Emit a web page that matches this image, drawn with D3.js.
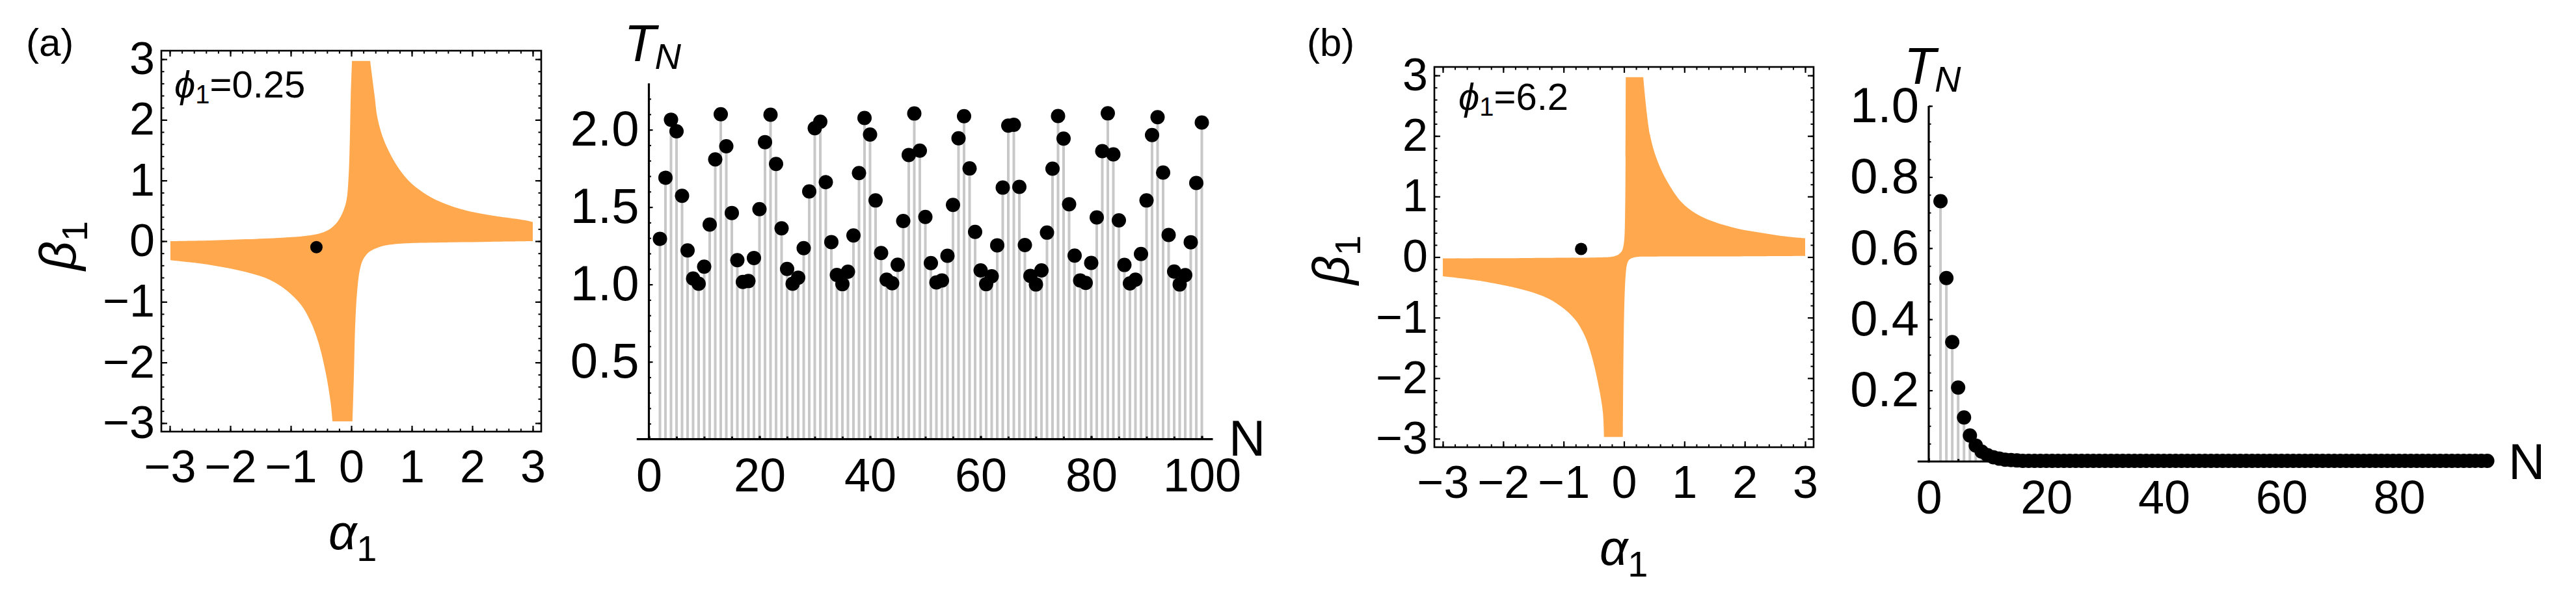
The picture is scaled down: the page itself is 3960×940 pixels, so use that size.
<!DOCTYPE html>
<html><head><meta charset="utf-8">
<script src="https://cdn.jsdelivr.net/npm/d3@7"></script>
<style>
body{margin:0;background:#fff}
svg{display:block}
text{font-family:"Liberation Sans","DejaVu Sans",Arial,sans-serif;fill:#000}
</style>
</head><body>
<svg id="c" width="3960" height="940"></svg>
<script>
// ---------------- DATA ----------------
// Panel (a): region boundary pieces [alpha, beta]
const UL_A = [[-2.99,0.0],[-2.34,0.011],[-1.74,0.031],[-1.14,0.057],[-0.74,0.088],[-0.50,0.134],[-0.34,0.21],[-0.22,0.33],[-0.13,0.50],[-0.076,0.69],[-0.044,1.07],[-0.024,1.65],[-0.008,2.41],[0.012,2.97]];
const OUT_A_Q1 = [[0.312,2.97],[0.384,2.41],[0.433,2.03],[0.545,1.65],[0.745,1.26],[0.945,1.0],[1.185,0.805],[1.466,0.651],[1.786,0.536],[2.107,0.46],[2.467,0.402],[2.867,0.345],[3.0,0.314]];
const LR_A = [[3.0,0.0],[2.3,-0.01],[1.67,-0.019],[0.865,-0.038],[0.60,-0.065],[0.465,-0.096],[0.304,-0.172],[0.204,-0.287],[0.144,-0.46],[0.096,-0.84],[0.064,-1.41],[0.044,-2.18],[0.02,-2.97]];
const OUT_A_Q3 = [[-0.31,-2.97],[-0.34,-2.67],[-0.42,-2.18],[-0.54,-1.68],[-0.67,-1.33],[-0.83,-1.05],[-1.06,-0.82],[-1.34,-0.64],[-1.74,-0.51],[-2.34,-0.39],[-2.99,-0.314]];
const DOT_A = [-0.576,-0.10];
const PHI_A = "0.25";

// Panel (b): region boundary pieces
const UL_B = [[-3.0,-0.023],[-1.535,-0.015],[-0.33,-0.004],[-0.17,0.011],[-0.09,0.042],[-0.03,0.11],[0.002,0.26],[0.018,0.68],[0.026,1.64],[0.03,2.97]];
const OUT_B_Q1 = [[0.319,2.97],[0.43,2.02],[0.55,1.60],[0.71,1.26],[0.95,0.91],[1.19,0.72],[1.47,0.59],[1.88,0.47],[2.28,0.40],[2.68,0.34],[3.0,0.31]];
const LR_B = [[3.0,0.019],[1.68,0.011],[0.47,0.008],[0.19,0.0],[0.09,-0.04],[0.05,-0.12],[0.03,-0.27],[0.01,-0.65],[-0.006,-1.42],[-0.018,-2.82],[-0.02,-2.97]];
const OUT_B_Q3 = [[-0.33,-2.97],[-0.35,-2.56],[-0.41,-2.18],[-0.53,-1.65],[-0.65,-1.30],[-0.81,-1.03],[-1.05,-0.81],[-1.33,-0.65],[-1.74,-0.52],[-2.34,-0.40],[-3.0,-0.317]];
const DOT_B = [-0.71,0.135];
const PHI_B = "6.2";

// Region plot ticks
const REGION_TICKS = [-3,-2,-1,0,1,2,3];

// T_N series, N starts at 2
const N_START = 2;
const TN_A = [1.295,1.69,2.065,1.99,1.573,1.22,1.038,1.005,1.115,1.387,
1.808,2.10,1.893,1.462,1.157,1.016,1.022,1.171,1.487,1.92,
2.097,1.779,1.363,1.10,1.005,1.044,1.235,1.601,2.01,2.052,
1.661,1.274,1.061,1.002,1.082,1.317,1.72,2.076,1.969,1.543,
1.203,1.031,1.008,1.127,1.41,1.837,2.105,1.865,1.436,1.138,
1.013,1.026,1.185,1.514,1.945,2.088,1.75,1.34,1.091,1.002,
1.053,1.253,1.626,2.027,2.032,1.631,1.255,1.055,1.0,1.091,
1.335,1.748,2.089,1.943,1.518,1.186,1.026,1.01,1.139,1.433,
1.862,2.106,1.841,1.414,1.126,1.007,1.031,1.197,1.543,1.966,
2.081,1.723,1.32,1.083,1.0,1.06,1.273,1.656,2.047];
const TN_B = [0.732,0.516,0.336,0.208,0.124,0.073,0.045,0.028,0.018,0.012,
0.008,0.005,0.004,0.003,0.002,0.002,0.002,0.002,0.002,0.002,
0.002,0.002,0.002,0.002,0.002,0.002,0.002,0.002,0.002,0.002,
0.002,0.002,0.002,0.002,0.002,0.002,0.002,0.002,0.002,0.002,
0.002,0.002,0.002,0.002,0.002,0.002,0.002,0.002,0.002,0.002,
0.002,0.002,0.002,0.002,0.002,0.002,0.002,0.002,0.002,0.002,
0.002,0.002,0.002,0.002,0.002,0.002,0.002,0.002,0.002,0.002,
0.002,0.002,0.002,0.002,0.002,0.002,0.002,0.002,0.002,0.002,
0.002,0.002,0.002,0.002,0.002,0.002,0.002,0.002,0.002,0.002,
0.002,0.002,0.002,0.002];
const XT_A = [0,20,40,60,80,100];
const YT_A = [0.5,1.0,1.5,2.0];
const XT_B = [0,20,40,60,80];
const YT_B = [0.2,0.4,0.6,0.8,1.0];

// ---------------- DRAW ----------------
const svg = d3.select("#c");
const ORANGE = "#FFA84D";
const intFmt = d3.format("d");

function regionPanel(cfg){
  const x = d3.scaleLinear().domain([-3.14,3.14]).range([cfg.x0,cfg.x1]);
  const y = d3.scaleLinear().domain([-3.14,3.14]).range([cfg.y1,cfg.y0]);
  const g = svg.append("g");
  const line = d3.line().x(d=>x(d[0])).y(d=>y(d[1])).curve(d3.curveCatmullRom.alpha(0.5));
  let s = "";
  cfg.pieces.forEach((p,i)=>{ let d = line(p); if(i>0) d = "L" + d.slice(1); s += d; });
  g.append("path").attr("d", s+"Z").attr("fill",ORANGE).attr("stroke","none");
  g.append("circle").attr("cx",x(cfg.dot[0])).attr("cy",y(cfg.dot[1])).attr("r",9.5).attr("fill","#000");
  // frame axes
  const minor = d3.range(-3,3.01,0.2).map(v=>+v.toFixed(1));
  const mk = (axis, sc, tr, sizeMaj, sizeMin, labels) => {
    const a1 = axis(sc).tickValues(minor).tickSizeInner(-sizeMin).tickSizeOuter(0).tickFormat("");
    const ga = g.append("g").attr("transform",tr).call(a1);
    ga.select(".domain").remove();
    ga.selectAll("line").attr("stroke","#000").attr("stroke-width",2);
    const a2 = axis(sc).tickValues(REGION_TICKS).tickSizeInner(-sizeMaj).tickSizeOuter(0).tickPadding(labels?12:0)
      .tickFormat(labels ? intFmt : "");
    const gb = g.append("g").attr("transform",tr).call(a2);
    gb.select(".domain").remove();
    gb.selectAll("line").attr("stroke","#000").attr("stroke-width",2.2);
    gb.selectAll("text").attr("font-size",70).attr("font-family","Liberation Sans, Arial, sans-serif").attr("fill","#000");
    return gb;
  };
  const bx = mk(d3.axisBottom, x, `translate(0,${cfg.y1})`, 9, 4.5, true);
  bx.selectAll("text").attr("dy",null).attr("y", 78);
  mk(d3.axisTop, x, `translate(0,${cfg.y0})`, 9, 4.5, false);
  const ly = mk(d3.axisLeft, y, `translate(${cfg.x0},0)`, 9, 4.5, true);
  ly.selectAll("text").attr("x",-10);
  mk(d3.axisRight, y, `translate(${cfg.x1},0)`, 9, 4.5, false);
  g.append("rect").attr("x",cfg.x0).attr("y",cfg.y0).attr("width",cfg.x1-cfg.x0).attr("height",cfg.y1-cfg.y0)
    .attr("fill","none").attr("stroke","#000").attr("stroke-width",2.6);
  // labels
  g.append("text").attr("x",cfg.tag[0]).attr("y",cfg.tag[1]).attr("font-size",60).attr("font-family","DejaVu Sans, sans-serif").text(cfg.tagText);
  const ph = g.append("text").attr("x",cfg.phi[0]).attr("y",cfg.phi[1]).attr("font-size",58);
  ph.append("tspan").attr("font-style","italic").text("ϕ");
  ph.append("tspan").attr("font-size",40).attr("dy",9).text("1");
  ph.append("tspan").attr("dy",-9).text("="+cfg.phiVal);
  const al = g.append("text").attr("x",cfg.alpha[0]).attr("y",cfg.alpha[1]).attr("font-size",76);
  al.append("tspan").attr("font-style","italic").text("α");
  al.append("tspan").attr("font-size",56).attr("dy",18).text("1");
  const bl = g.append("text").attr("transform",`translate(${cfg.beta[0]},${cfg.beta[1]}) rotate(-90)`)
    .attr("text-anchor","middle").attr("font-size",78);
  bl.append("tspan").attr("font-style","italic").text("β");
  bl.append("tspan").attr("font-size",56).attr("dy",18).text("1");
}

regionPanel({x0:248,x1:832,y0:78,y1:664,
  pieces:[UL_A,[[0.012,2.97],[0.312,2.97]],OUT_A_Q1,[[3.0,0.314],[3.0,0.0]],LR_A,[[0.02,-2.97],[-0.31,-2.97]],OUT_A_Q3,[[-2.99,-0.314],[-2.99,0.0]]],
  dot:DOT_A, tag:[40,86], tagText:"(a)", phi:[268,150], phiVal:PHI_A, alpha:[505,845], beta:[116,378]});
regionPanel({x0:2205,x1:2788,y0:103,y1:688,
  pieces:[UL_B,[[0.03,2.97],[0.319,2.97]],OUT_B_Q1,[[3.0,0.31],[3.0,0.019]],LR_B,[[-0.02,-2.97],[-0.33,-2.97]],OUT_B_Q3,[[-3.0,-0.317],[-3.0,-0.023]]],
  dot:DOT_B, tag:[2009,86], tagText:"(b)", phi:[2242,169], phiVal:PHI_B, alpha:[2459,869], beta:[2073,400]});

function stemPanel(cfg){
  const x = d3.scaleLinear().domain(cfg.xd).range(cfg.xr);
  const y = d3.scaleLinear().domain(cfg.yd).range(cfg.yr);
  const g = svg.append("g");
  const pts = cfg.vals.map((v,i)=>({n:i+N_START, v}));
  g.selectAll("line.stem").data(pts).join("line").attr("class","stem")
    .attr("x1",d=>x(d.n)).attr("x2",d=>x(d.n)).attr("y1",y(0)).attr("y2",d=>y(d.v))
    .attr("stroke","#c8c8c8").attr("stroke-width",4);
  // y axis minor + major
  const ym = d3.axisLeft(y).tickValues(cfg.yMinor).tickSizeInner(-3.5).tickSizeOuter(0).tickFormat("");
  const gym = g.append("g").attr("transform",`translate(${x(0)},0)`).call(ym);
  gym.select(".domain").remove(); gym.selectAll("line").attr("stroke","#000").attr("stroke-width",2);
  const yM = d3.axisLeft(y).tickValues(cfg.yt).tickSizeInner(-6).tickSizeOuter(0).tickPadding(15).tickFormat(d3.format(".1f"));
  const gyM = g.append("g").attr("transform",`translate(${x(0)},0)`).call(yM);
  gyM.select(".domain").remove(); gyM.selectAll("line").attr("stroke","#000").attr("stroke-width",2.2);
  gyM.selectAll("text").attr("font-size",76).attr("font-family","Liberation Sans, Arial, sans-serif").attr("fill","#000");
  // x axis
  const xm = d3.axisBottom(x).tickValues(cfg.xMinor).tickSizeInner(-4).tickSizeOuter(0).tickFormat("");
  const gxm = g.append("g").attr("transform",`translate(0,${y(0)})`).call(xm);
  gxm.select(".domain").remove(); gxm.selectAll("line").attr("stroke","#000").attr("stroke-width",3);
  const xM = d3.axisBottom(x).tickValues(cfg.xt).tickSizeInner(-5).tickSizeOuter(0).tickFormat(intFmt);
  const gxM = g.append("g").attr("transform",`translate(0,${y(0)})`).call(xM);
  gxM.select(".domain").remove(); gxM.selectAll("line").attr("stroke","#000").attr("stroke-width",3);
  gxM.selectAll("text").attr("dy",null).attr("y",80).attr("font-size",72).attr("font-family","Liberation Sans, Arial, sans-serif").attr("fill","#000");
  // axis lines
  g.append("line").attr("x1",x(cfg.xAxisExt[0])).attr("x2",x(cfg.xAxisExt[1])).attr("y1",y(0)).attr("y2",y(0))
    .attr("stroke","#000").attr("stroke-width",3.2);
  g.append("line").attr("x1",x(0)).attr("x2",x(0)).attr("y1",y(0)+1.5).attr("y2",y(cfg.yd[1]))
    .attr("stroke","#000").attr("stroke-width",3.2);
  // dots
  g.selectAll("circle").data(pts).join("circle").attr("cx",d=>x(d.n)).attr("cy",d=>y(d.v)).attr("r",11).attr("fill","#000");
  // labels: T with subscript N
  g.append("text").attr("x",x(0)-38).attr("y",y(cfg.yd[1])-34).attr("font-size",80).attr("font-style","italic").text("T");
  g.append("text").attr("x",x(0)+9).attr("y",y(cfg.yd[1])-22).attr("font-size",56).attr("font-style","italic").text("N");
  g.append("text").attr("x",cfg.nLab[0]).attr("y",cfg.nLab[1]).attr("font-size",78).text("N");
}

stemPanel({xd:[0,100], xr:[997.5,1847.5], yd:[0,2.3], yr:[675.6,128.2], vals:TN_A,
  xt:XT_A, yt:YT_A, xMinor:d3.range(0,101,5), yMinor:d3.range(1,23).map(v=>v/10),
  xAxisExt:[-2.2,102], nLab:[1889,701]});
stemPanel({xd:[0,80], xr:[2965,3688], yd:[0,1.0], yr:[710,163], vals:TN_B,
  xt:XT_B, yt:YT_B, xMinor:d3.range(0,96,5), yMinor:d3.range(1,21).map(v=>v/20),
  xAxisExt:[-1.9,96], nLab:[3856,737]});
</script>
</body></html>
